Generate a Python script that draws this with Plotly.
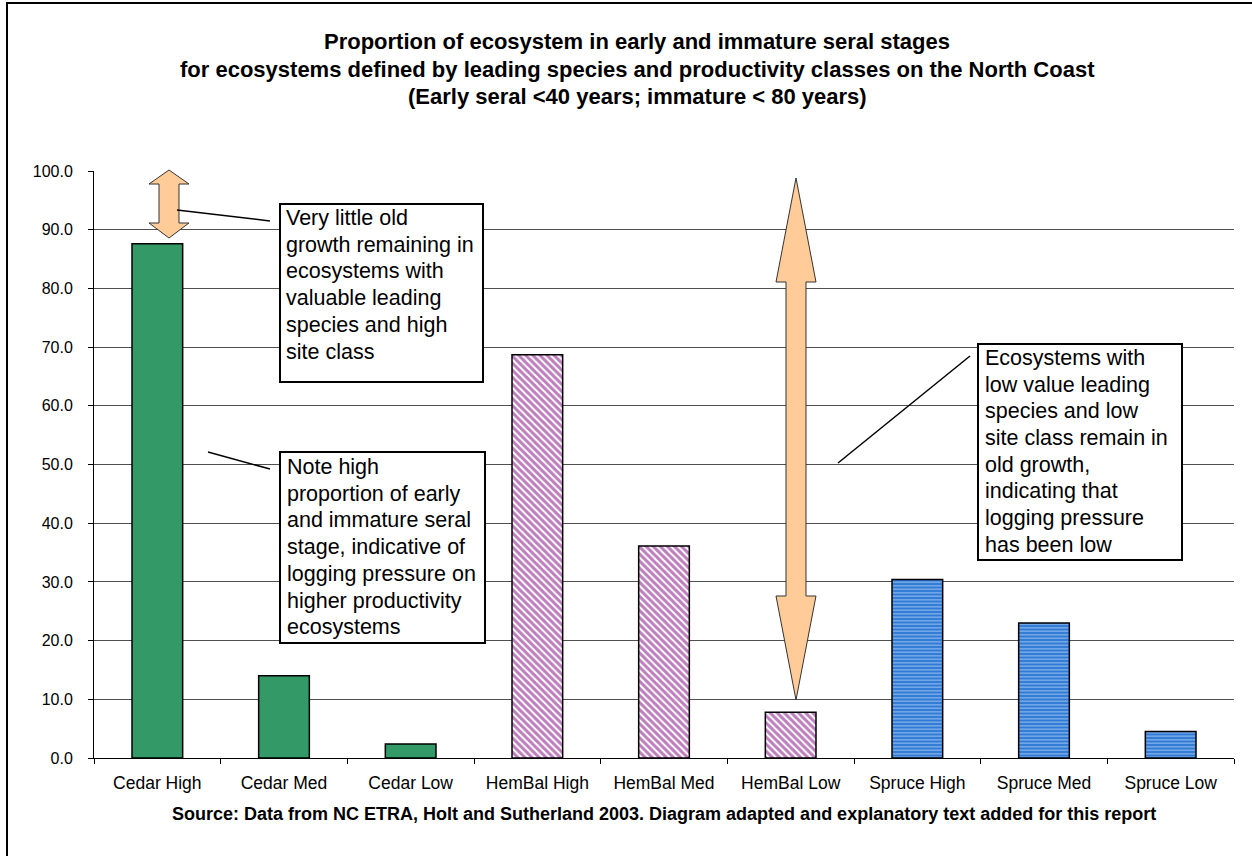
import plotly.graph_objects as go

categories = ["Cedar High", "Cedar Med", "Cedar Low", "HemBal High", "HemBal Med",
              "HemBal Low", "Spruce High", "Spruce Med", "Spruce Low"]
values = [87.6, 14.0, 2.4, 68.7, 36.1, 7.8, 30.4, 23.0, 4.5]
groups = ["Cedar"] * 3 + ["HemBal"] * 3 + ["Spruce"] * 3

title_lines = [
    "Proportion of ecosystem in early and immature seral stages",
    "for ecosystems defined by leading species and productivity classes on the North Coast",
    "(Early seral <40 years; immature < 80 years)",
]
source_text = "Source: Data from NC ETRA, Holt and Sutherland 2003. Diagram adapted and explanatory text added for this report"
box1_lines = ["Very little old", "growth remaining in", "ecosystems with",
              "valuable leading", "species and high", "site class"]
box2_lines = ["Note high", "proportion of early", "and immature seral",
              "stage, indicative of", "logging pressure on", "higher productivity",
              "ecosystems"]
box3_lines = ["Ecosystems with", "low value leading", "species and low",
              "site class remain in", "old growth,", "indicating that",
              "logging pressure", "has been low"]

FONT = "Liberation Sans, Arial, sans-serif"
W, H = 1252, 856
X0, X1, Y0, Y1 = 94, 1234, 758, 171


def px(x):
    return (x - X0) / (X1 - X0)


def py(y):
    return (Y0 - y) / (Y0 - Y1)


fig = go.Figure()

styles = {
    "Cedar": dict(color="#339966"),
    "HemBal": dict(color="white", pattern=dict(shape="\\", fgcolor="#7a007a", bgcolor="white",
                                                 size=5, solidity=0.6)),
    "Spruce": dict(color="#3a86dc", pattern=dict(shape="-", fgcolor="#d6e8fa", bgcolor="#2f7ad6",
                                                   size=3.5, solidity=0.4)),
}
for g in ["Cedar", "HemBal", "Spruce"]:
    xs = [c for c, gg in zip(categories, groups) if gg == g]
    ys = [v for v, gg in zip(values, groups) if gg == g]
    fig.add_trace(go.Bar(x=xs, y=ys, marker=dict(line=dict(color="black", width=1.5), **styles[g]),
                         showlegend=False))

shapes = []
# outer frame
shapes.append(dict(type="rect", xref="paper", yref="paper", x0=px(7), y0=py(900), x1=px(1300), y1=py(3),
                   line=dict(color="black", width=2), fillcolor="rgba(0,0,0,0)", layer="below"))


def arrow_path(cx, top, head_top, head_bot, bot, hw=20, sw=10):
    pts = [(cx, top), (cx + hw, head_top), (cx + sw, head_top), (cx + sw, head_bot), (cx + hw, head_bot),
           (cx, bot), (cx - hw, head_bot), (cx - sw, head_bot), (cx - sw, head_top), (cx - hw, head_top)]
    return "M " + " L ".join(f"{px(x):.5f},{py(y):.5f}" for x, y in pts) + " Z"


for cx, a, b, c, d in [(169, 170, 184, 223, 238), (796, 178, 282, 596, 700)]:
    shapes.append(dict(type="path", xref="paper", yref="paper", path=arrow_path(cx, a, b, c, d),
                       fillcolor="#ffcc99", line=dict(color="#333333", width=1)))

for (xa, ya, xb, yb) in [(177, 210, 270, 221), (208, 452, 270, 469), (838, 463, 970, 356)]:
    shapes.append(dict(type="line", xref="paper", yref="paper", x0=px(xa), y0=py(ya), x1=px(xb), y1=py(yb),
                       line=dict(color="black", width=1.5)))

boxes = [((280, 204, 483, 382), 284, 218, box1_lines),
         ((280, 452, 485, 643), 285, 467, box2_lines),
         ((978, 344, 1182, 560), 983, 358, box3_lines)]
annotations = []
for (bx0, by0, bx1, by1), tx, ty, lines in boxes:
    shapes.append(dict(type="rect", xref="paper", yref="paper", x0=px(bx0), y0=py(by1), x1=px(bx1), y1=py(by0),
                       line=dict(color="black", width=2), fillcolor="white"))
    for i, ln in enumerate(lines):
        annotations.append(dict(text=ln, xref="paper", yref="paper", x=px(tx), y=py(ty + i * 26.7),
                                xanchor="left", yanchor="middle", showarrow=False,
                                font=dict(family=FONT, size=21.5, color="black")))

for i, ln in enumerate(title_lines):
    annotations.append(dict(text=f"<b>{ln}</b>", xref="paper", yref="paper", x=px(637), y=py(42 + i * 27.5),
                            xanchor="center", yanchor="middle", showarrow=False,
                            font=dict(family=FONT, size=22, color="black")))

annotations.append(dict(text=f"<b>{source_text}</b>", xref="paper", yref="paper", x=px(664), y=py(814),
                        xanchor="center", yanchor="middle", showarrow=False,
                        font=dict(family=FONT, size=18, color="black")))

fig.update_layout(
    width=W, height=H,
    margin=dict(l=X0, r=W - X1, t=Y1, b=H - Y0, pad=0),
    paper_bgcolor="white", plot_bgcolor="white",
    barmode="group", bargap=0.6,
    shapes=shapes, annotations=annotations,
    font=dict(family=FONT, color="black"),
    xaxis=dict(categoryorder="array", categoryarray=categories, showline=True, linecolor="black",
               linewidth=1, ticks="outside", ticklen=5, tickcolor="black", tickson="boundaries",
               ticklabelstandoff=9,
               tickfont=dict(size=17.5, family=FONT), showgrid=False, zeroline=False),
    yaxis=dict(range=[0, 100], dtick=10, tickformat=".1f", showline=True, linecolor="black", linewidth=1,
               ticks="outside", ticklen=5, tickcolor="black", showgrid=True, gridcolor="#505050",
               ticklabelstandoff=12,
               gridwidth=1, zeroline=False, tickfont=dict(size=16, family=FONT)),
)

fig.write_html("out.html", config={"displayModeBar": False},
               post_script="document.body.style.margin='0';document.body.style.overflow='hidden';")
